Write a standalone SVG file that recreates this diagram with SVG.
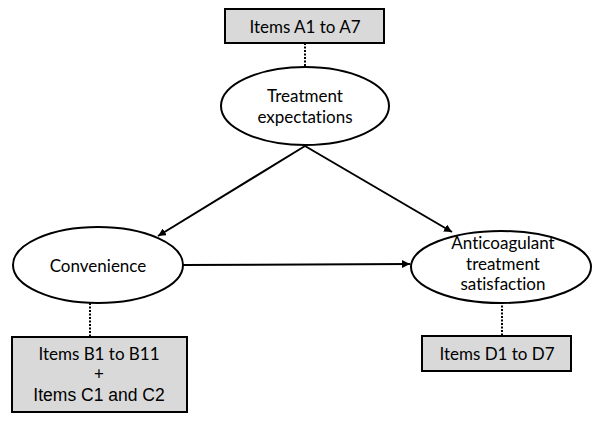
<svg xmlns="http://www.w3.org/2000/svg" width="600" height="423" viewBox="0 0 600 423">
<defs>
<marker id="ah" viewBox="0 0 10 10" refX="10" refY="5" markerWidth="4" markerHeight="4" orient="auto" markerUnits="strokeWidth">
<path d="M0,0 L10,5 L0,10 z" fill="#000"/>
</marker>
<style>
.box{fill:#d9d9d9;stroke:#000;stroke-width:2}
.ell{fill:#fff;stroke:#000;stroke-width:2}
.dot{stroke:#000;stroke-width:2;stroke-dasharray:2 1.5;fill:none}
.arr{stroke:#000;stroke-width:2;fill:none;marker-end:url(#ah)}
text{font-family:Lato,"Open Sans","Liberation Sans",sans-serif;font-size:17px;fill:#000;text-anchor:middle;font-variant-ligatures:none}
.ar{font-family:"Liberation Sans",Arial,sans-serif;font-size:17.5px}
</style>
</defs>
<rect width="600" height="423" fill="#fff"/>
<g id="connectors">
<line class="dot" x1="305" y1="43" x2="305" y2="67"/>
<line class="dot" x1="90" y1="303" x2="90" y2="337"/>
<line class="dot" x1="502" y1="302" x2="502" y2="336"/>
<line class="arr" x1="305" y1="146" x2="158" y2="236"/>
<line class="arr" x1="305" y1="146" x2="452" y2="232"/>
<line class="arr" x1="183" y1="265" x2="410" y2="264"/>
</g>
<g id="itemsA">
<rect class="box" x="225" y="9" width="159" height="34"/>
<text x="305" y="33">Items A1 to A7</text>
</g>
<g id="expectations">
<ellipse class="ell" cx="305" cy="106" rx="84" ry="39"/>
<text x="305" y="102">Treatment</text>
<text x="305" y="123">expectations</text>
</g>
<g id="convenience">
<ellipse class="ell" cx="98" cy="265" rx="85" ry="38"/>
<text x="98" y="272">Convenience</text>
</g>
<g id="satisfaction">
<ellipse class="ell" cx="501" cy="267" rx="90" ry="36"/>
<text x="503" y="249">Anticoagulant</text>
<text x="503" y="270">treatment</text>
<text x="503" y="290">satisfaction</text>
</g>
<g id="itemsBC">
<rect class="box" x="12" y="337" width="175" height="75"/>
<text x="99" y="360">Items B1 to B11</text>
<text x="99" y="380">+</text>
<text class="ar" x="99" y="401">Items C1 and C2</text>
</g>
<g id="itemsD">
<rect class="box" x="422" y="336" width="149" height="35"/>
<text x="497" y="360">Items D1 to D7</text>
</g>
</svg>
